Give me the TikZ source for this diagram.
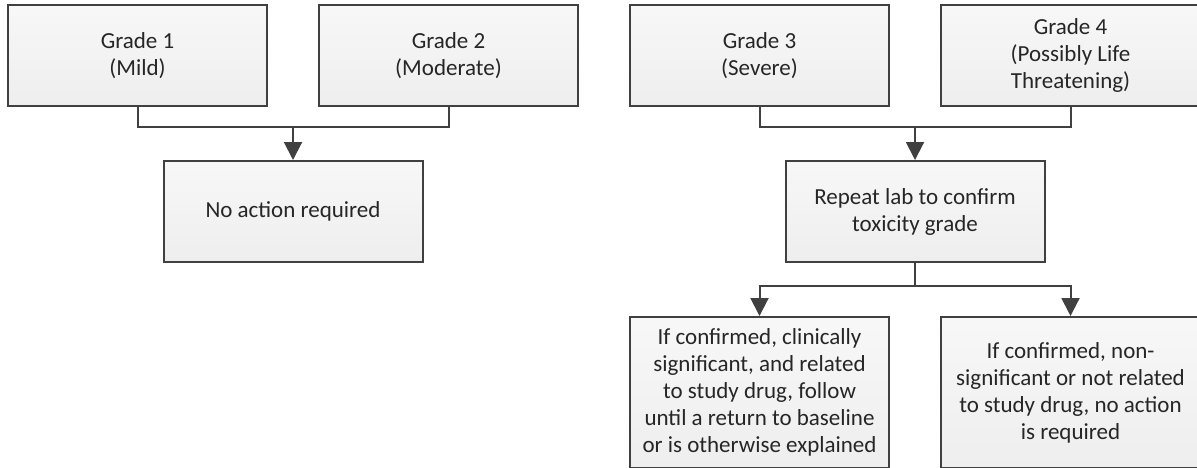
\documentclass[tikz,border=0pt]{standalone}
\usepackage{fontspec}
\setmainfont{Carlito}
\usepackage{tikz}
\usetikzlibrary{positioning,arrows.meta,calc}
\definecolor{edgegray}{HTML}{404040}
\definecolor{boxfill}{HTML}{EEEEEE}
\definecolor{textgray}{HTML}{262626}

\begin{document}
\begin{tikzpicture}[
		node distance=25pt,
		box/.style={draw=edgegray, line width=1pt, top color=white!97!black, bottom color=boxfill,
			minimum width=129.5pt, minimum height=50.5pt, align=center, inner sep=2pt,
			text=textgray, font=\fontsize{11.5}{13.5}\selectfont},
		tallbox/.style={box, minimum height=75.5pt},
		conn/.style={draw=edgegray, line width=1pt},
		arrow/.style={conn, -{Triangle[width=9pt,length=9pt]}}
		]
		
		\useasboundingbox (0,0.5pt) rectangle (598.5pt,-233pt);
		
		\node[box] (g1) at (68.75pt,-27.25pt) {Grade 1\\(Mild)};
		\node[box, right=of g1] (g2) {Grade 2\\(Moderate)};
		\node[box, right=of g2] (g3) {Grade 3\\(Severe)};
		\node[box, right=of g3] (g4) {Grade 4\\(Possibly Life\\Threatening)};
		
		\node[box, below=26.5pt of {$(g1.south east)!0.5!(g2.south west)$}] (noact) {No action required};
		\node[box, below=26.5pt of {$(g3.south east)!0.5!(g4.south west)$}] (repeat) {Repeat lab to confirm\\toxicity grade};
		
		\node[tallbox, below=26.5pt of {$(g3.south |- repeat.south)$}] (conf) {If confirmed, clinically\\significant, and related\\to study drug, follow\\until a return to baseline\\or is otherwise explained};
		\node[tallbox, below=26.5pt of {$(g4.south |- repeat.south)$}] (nonsig) {If confirmed, non-\\significant or not related\\to study drug, no action\\is required};
		
		% joins
		\coordinate (j12) at ($(noact.north)+(0,16.5pt)$);
		\coordinate (j34) at ($(repeat.north)+(0,16.5pt)$);
		\coordinate (jrep) at ($(repeat.south)+(0,-11.5pt)$);
		
		\draw[conn] (g1.south) |- (j12) -| (g2.south);
		\draw[arrow] (j12) -- (noact.north);
		
		\draw[conn] (g3.south) |- (j34) -| (g4.south);
		\draw[arrow] (j34) -- (repeat.north);
		
		\draw[conn] (repeat.south) -- (jrep);
		\draw[arrow] (jrep) -| (conf.north);
		\draw[arrow] (jrep) -| (nonsig.north);
		
	\end{tikzpicture}
\end{document}
